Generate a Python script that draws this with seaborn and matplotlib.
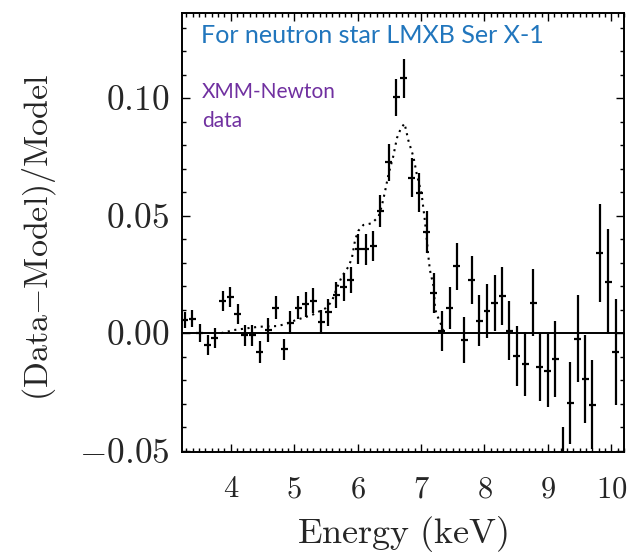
import matplotlib
matplotlib.use("Agg")
import matplotlib.pyplot as plt
from matplotlib.ticker import MultipleLocator, FixedLocator, FuncFormatter
import pandas as pd
import seaborn as sns

# Residuals of the continuum fit: (data - model) / model per energy bin
energy = [3.27, 3.39, 3.51, 3.64, 3.75, 3.87, 3.99, 4.11, 4.22, 4.34,
          4.46, 4.59, 4.71, 4.84, 4.94, 5.06, 5.18, 5.30, 5.43, 5.54,
          5.66, 5.78, 5.89, 6.01, 6.13, 6.25, 6.36, 6.49, 6.61, 6.73,
          6.85, 6.97, 7.09, 7.20, 7.33, 7.45, 7.56, 7.68, 7.80, 7.92,
          8.04, 8.16, 8.28, 8.39, 8.51, 8.64, 8.77, 8.87, 9.00, 9.12,
          9.24, 9.35, 9.47, 9.59, 9.70, 9.82, 9.95, 10.07]
ratio = [0.0055, 0.0062, 0.0000, -0.0051, -0.0022, 0.0138, 0.0152, 0.0081, -0.0010, -0.0010,
         -0.0080, 0.0013, 0.0108, -0.0069, 0.0044, 0.0108, 0.0123, 0.0138, 0.0048, 0.0088,
         0.0162, 0.0197, 0.0226, 0.0356, 0.0356, 0.0370, 0.0520, 0.0726, 0.1003, 0.1084,
         0.0661, 0.0598, 0.0431, 0.0169, 0.0010, 0.0108, 0.0285, -0.0030, 0.0226, 0.0052,
         0.0094, 0.0129, 0.0157, 0.0010, -0.0097, -0.0132, 0.0129, -0.0146, -0.0160, -0.0110,
         -0.0700, -0.0297, -0.0023, -0.0196, -0.0304, 0.0342, 0.0218, -0.0080]
ratio_err = [0.0035, 0.0035, 0.0039, 0.0043, 0.0043, 0.0043, 0.0043, 0.0043, 0.0043, 0.0046,
             0.0046, 0.0050, 0.0050, 0.0046, 0.0049, 0.0050, 0.0053, 0.0053, 0.0050, 0.0057,
             0.0057, 0.0060, 0.0057, 0.0064, 0.0067, 0.0064, 0.0067, 0.0080, 0.0078, 0.0082,
             0.0082, 0.0082, 0.0089, 0.0085, 0.0085, 0.0090, 0.0100, 0.0099, 0.0104, 0.0109,
             0.0115, 0.0119, 0.0124, 0.0126, 0.0129, 0.0137, 0.0142, 0.0145, 0.0155, 0.0160,
             0.0300, 0.0174, 0.0184, 0.0186, 0.0190, 0.0209, 0.0223, 0.0227]
bin_halfwidth = 0.055

# Iron-line model curve (dotted)
model_energy = [3.85, 4.05, 4.44, 4.73, 4.86, 5.02, 5.28, 5.49, 5.59, 5.67,
                5.75, 5.80, 5.86, 5.91, 5.96, 6.01, 6.09, 6.22, 6.33, 6.38,
                6.43, 6.49, 6.56, 6.62, 6.68, 6.74, 6.80, 6.88, 6.93, 7.01,
                7.06, 7.09, 7.11, 7.14, 7.20, 7.22, 7.25, 7.30, 7.35]
model_ratio = [0.0000, 0.0013, 0.0027, 0.0030, 0.0038, 0.0055, 0.0077, 0.0105, 0.0133, 0.0190,
               0.0240, 0.0260, 0.0285, 0.0320, 0.0396, 0.0435, 0.0460, 0.0467, 0.0495, 0.0540,
               0.0600, 0.0680, 0.0750, 0.0830, 0.0870, 0.0892, 0.0820, 0.0750, 0.0680, 0.0590,
               0.0480, 0.0400, 0.0340, 0.0268, 0.0197, 0.0105, 0.0077, 0.0048, 0.0010]

y_ticks = [-0.05, 0.00, 0.05, 0.10]
x_ticks = [4, 5, 6, 7, 8, 9, 10]

data = pd.DataFrame({"energy": energy, "ratio": ratio, "err": ratio_err})
model = pd.DataFrame({"energy": model_energy, "ratio": model_ratio})

sns.set_theme(style="ticks")
plt.rcParams["font.family"] = "serif"
plt.rcParams["font.serif"] = ["cmr10"]
plt.rcParams["mathtext.fontset"] = "cm"
plt.rcParams["axes.formatter.use_mathtext"] = True

fig = plt.figure(figsize=(6.29, 5.54), dpi=100)
ax = fig.add_axes([0.2893, 0.1841, 0.7027, 0.7924])

ax.axhline(0.0, color="black", lw=1.4, zorder=1)

ax.errorbar(data["energy"], data["ratio"], yerr=data["err"], xerr=bin_halfwidth,
            fmt="none", ecolor="black", elinewidth=1.6, capsize=0, zorder=3)

sns.lineplot(data=model, x="energy", y="ratio", ax=ax, color="black",
             lw=1.5, linestyle=(0, (1, 2.2)), sort=False, zorder=2)

ax.set_xlim(3.23, 10.2)
ax.set_ylim(-0.0506, 0.1362)

ax.xaxis.set_major_locator(FixedLocator(x_ticks))
ax.xaxis.set_minor_locator(MultipleLocator(0.1))
ax.yaxis.set_major_locator(FixedLocator(y_ticks))
ax.yaxis.set_minor_locator(MultipleLocator(0.01))
ax.xaxis.set_major_formatter(FuncFormatter(lambda v, _: r"$\mathrm{%d}$" % round(v)))
ax.yaxis.set_major_formatter(FuncFormatter(lambda v, _: r"$\mathrm{%.2f}$" % v))

ax.tick_params(which="both", direction="in", top=True, right=True,
               color="black", width=1.0)
ax.tick_params(which="major", length=5.5)
ax.tick_params(which="minor", length=3.0)
ax.tick_params(axis="y", which="major", labelsize=25.5, pad=9)
ax.tick_params(axis="x", which="major", labelsize=22, pad=17)

for sp in ax.spines.values():
    sp.set_linewidth(1.4)
    sp.set_color("black")

ax.set_xlabel(r"$\mathrm{Energy\ (keV)}$", fontsize=26)
ax.set_ylabel(r"$\mathrm{(Data{-}Model)/Model}$", fontsize=24.5)
ax.xaxis.set_label_coords(0.5, -0.141)
ax.yaxis.set_label_coords(-0.28, 0.49)

ax.text(0.044, 0.932, "For neutron star LMXB Ser X-1", transform=ax.transAxes,
        family="Lato", fontsize=18.1, color="#2176BD", va="baseline", ha="left")
ax.text(0.045, 0.806, "XMM-Newton", transform=ax.transAxes,
        family="Lato", fontsize=15, color="#7030A0", va="baseline", ha="left")
ax.text(0.045, 0.740, "data", transform=ax.transAxes,
        family="Lato", fontsize=15, color="#7030A0", va="baseline", ha="left")

fig.savefig("out.png", dpi=100, facecolor="white")
